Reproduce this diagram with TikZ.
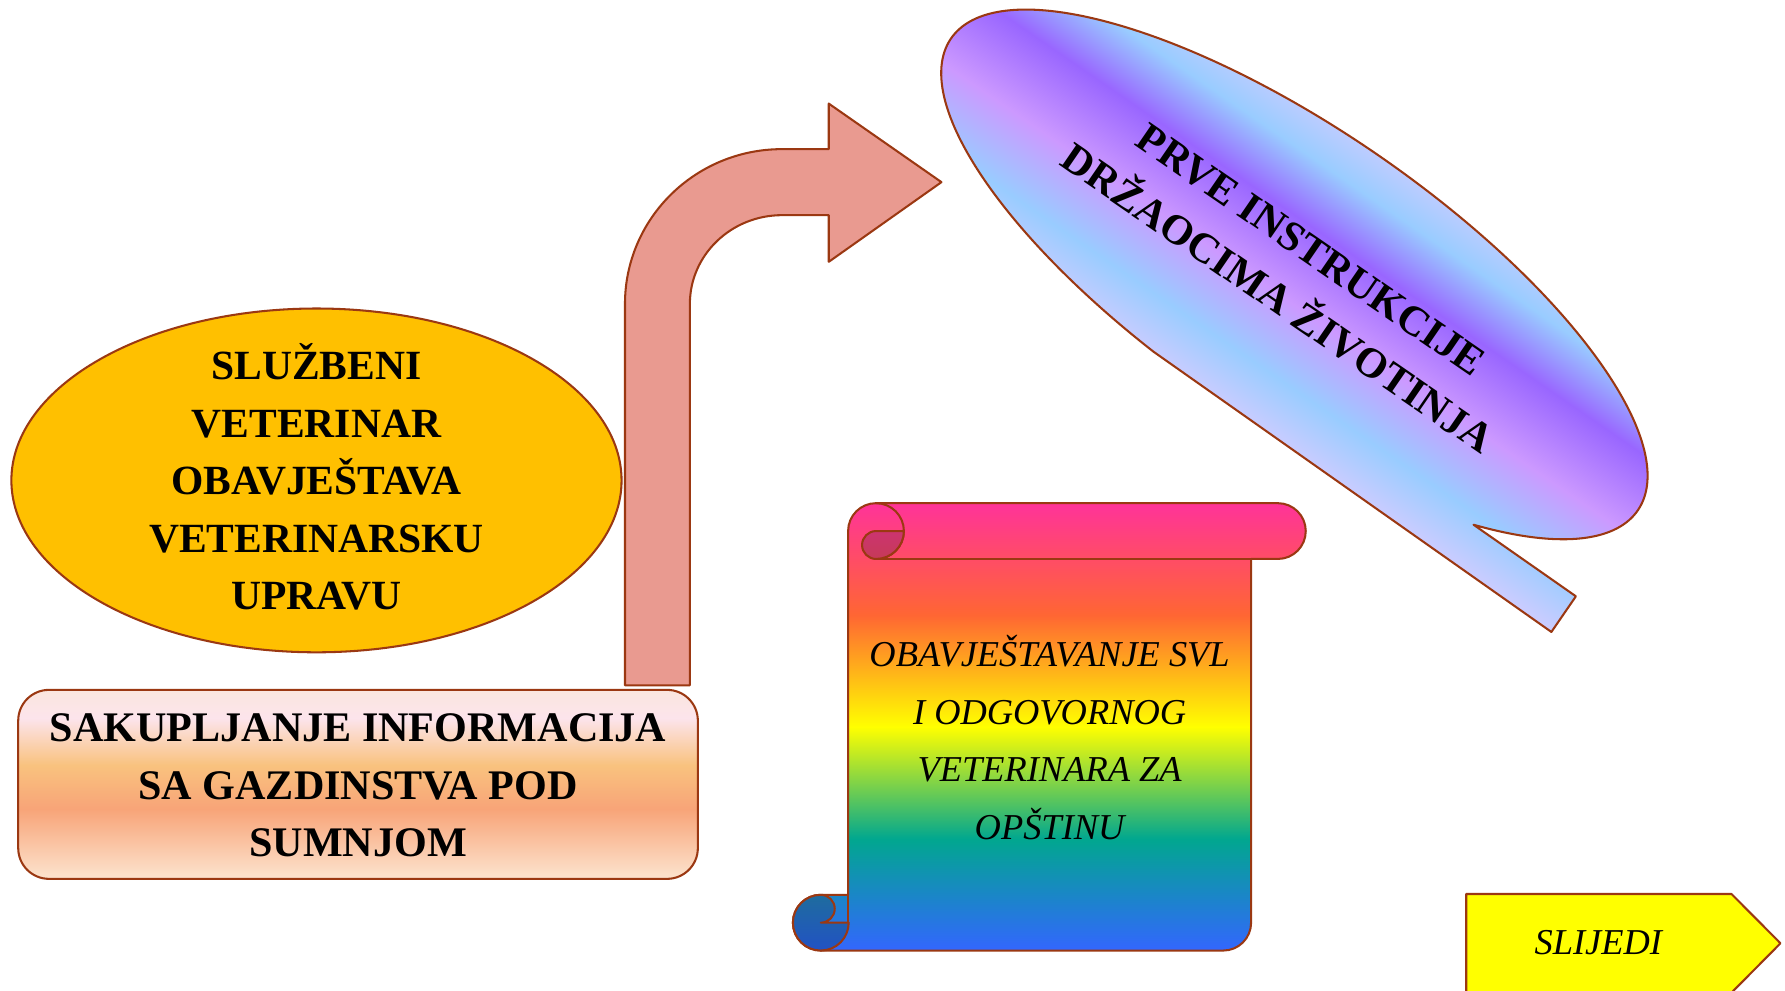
\documentclass[tikz,border=0pt]{standalone}
\usepackage{fontspec}
\setmainfont{Liberation Serif}
\definecolor{outc}{HTML}{9B3812}
\definecolor{yellowc}{HTML}{FFC000}
\definecolor{arrowc}{HTML}{E99A90}
\definecolor{nextc}{HTML}{FFFF00}
\definecolor{cw0}{HTML}{CCCCFF}
\definecolor{cw1}{HTML}{99CCFF}
\definecolor{cw2}{HTML}{9966FF}
\definecolor{cw3}{HTML}{CC99FF}
\definecolor{rb0}{HTML}{FF3399}
\definecolor{rb1}{HTML}{FF6633}
\definecolor{rb2}{HTML}{FFFF00}
\definecolor{rb3}{HTML}{01A78F}
\definecolor{rb4}{HTML}{3366FF}
\definecolor{pc0}{HTML}{FBE6DE}
\definecolor{pc1}{HTML}{FCE4EC}
\definecolor{pc2}{HTML}{F9C27E}
\definecolor{pc3}{HTML}{F8A478}
\definecolor{pc4}{HTML}{FCE4CF}
\definecolor{curltop}{HTML}{CC3470}
\definecolor{curlbot}{HTML}{C63A58}
\definecolor{rolltop}{HTML}{1E6C9E}
\definecolor{rollbot}{HTML}{2252C4}
\pgfdeclareverticalshading{calmwater}{100bp}{color(0bp)=(cw0); color(25bp)=(cw0); color(33.75bp)=(cw1); color(45bp)=(cw3); color(57bp)=(cw2); color(66.25bp)=(cw1); color(75bp)=(cw0); color(100bp)=(cw0)}
\pgfdeclareverticalshading{rainbowtwo}{100bp}{color(0bp)=(rb4); color(25bp)=(rb4); color(37.5bp)=(rb3); color(50bp)=(rb2); color(62.5bp)=(rb1); color(75bp)=(rb0); color(100bp)=(rb0)}
\pgfdeclareverticalshading{peachy}{100bp}{color(0bp)=(pc4); color(25bp)=(pc4); color(43.5bp)=(pc3); color(55bp)=(pc2); color(67.5bp)=(pc1); color(75bp)=(pc0); color(100bp)=(pc0)}
\begin{document}
\begin{tikzpicture}[x=1pt,y=-1pt,
  outl/.style={draw=outc, line width=1.8pt, line join=round},
  boldtxt/.style={font=\bfseries\fontsize{36.5}{50.5}\selectfont, align=center, text=black, inner sep=0pt},
  itxt/.style={font=\itshape\fontsize{32}{50.5}\selectfont, align=center, text=black, inner sep=0pt}]
\useasboundingbox[fill=white] (0,0) rectangle (1568,870);

% yellow ellipse
\path[outl, fill=yellowc] (278,422) ellipse [x radius=268, y radius=151];
\node[boldtxt] (sluzbeni) at (278,419) {SLUŽBENI\\VETERINAR\\OBAVJEŠTAVA\\VETERINARSKU\\UPRAVU};

% rounded box
\path[outl, shade, shading=peachy, rounded corners=27pt] (16,606) rectangle (613,772);
\node[boldtxt, font=\bfseries\fontsize{37}{50.5}\selectfont] (sakup) at (314.5,690) {SAKUPLJANJE INFORMACIJA\\SA GAZDINSTVA POD\\SUMNJOM};

% bent arrow
\path[outl, fill=arrowc] (549,602) -- (549,267)
  arc[start angle=180, end angle=270, x radius=138, y radius=136]
  -- (728,131) -- (728,91) -- (827,160) -- (728,230) -- (728,189) -- (687,189)
  arc[start angle=270, end angle=180, x radius=81, y radius=78]
  -- (606,602) -- cycle;

% callout
\begin{scope}[transform canvas={shift={(1137,241)}, rotate=-34.5}]
  \path[outl, shade, shading=calmwater] (254.3,92.1)
    arc[start angle=46, end angle=-260, x radius=366, y radius=128]
    -- (364,131) -- (364,93) -- cycle;
  \node[boldtxt, font=\bfseries\fontsize{37}{52}\selectfont] (prve) at (0,0) {PRVE INSTRUKCIJE\\DRŽAOCIMA ŽIVOTINJA};
\end{scope}

% scroll
\path[outl, shade, shading=rainbowtwo] (745,466.5)
  arc[start angle=180, end angle=270, radius=24.5]
  -- (1122.5,442) arc[start angle=270, end angle=450, radius=24.5]
  -- (1099,491) -- (1099,810.5) arc[start angle=0, end angle=90, radius=24.5]
  -- (721,835) arc[start angle=90, end angle=270, radius=24.5]
  -- (745,786) -- cycle;
\draw[outl] (1099,491) -- (769.5,491);
\draw[outl] (769.5,442) arc[start angle=270, end angle=450, radius=24.5];
\path[outl, top color=curltop, bottom color=curlbot] (769.5,466.5) -- (794,466.5)
  arc[start angle=0, end angle=90, radius=24.5]
  arc[start angle=90, end angle=270, radius=12.25] -- cycle;
\draw[outl] (745,786) -- (745,810.5);
\path[outl, top color=rolltop, bottom color=rollbot] (721,786)
  arc[start angle=270, end angle=450, radius=12.25]
  -- (745.5,810.5) arc[start angle=0, end angle=270, radius=24.5] -- cycle;
\node[itxt] (obav) at (922,648) {OBAVJEŠTAVANJE SVL\\I ODGOVORNOG\\VETERINARA ZA\\OPŠTINU};

% next button
\path[outl, fill=nextc] (1288,785.3) -- (1521,785.3) -- (1564,828.6) -- (1521,872) -- (1288,872) -- cycle;
\node[itxt] (slijedi) at (1404,828) {SLIJEDI};
\end{tikzpicture}
\end{document}
